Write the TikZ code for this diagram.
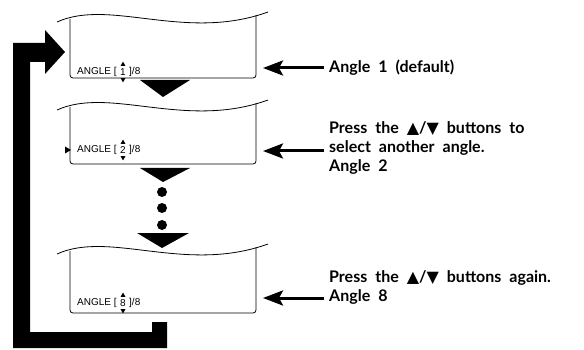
\documentclass[tikz,border=0pt]{standalone}
\usepackage{fontspec}
\setmainfont{Lato}
\newfontfamily\lcdfont{Liberation Sans}
\newfontfamily\symfont{DejaVu Sans}
\usetikzlibrary{arrows.meta}
\newcommand\labfont{\bfseries\fontsize{16}{19}\selectfont\spaceskip=8pt\relax}
\tikzset{
  screenline/.style={draw=black, line width=0.8pt, rounded corners=3pt},
  wave/.style={draw=black, line width=0.8pt},
  lcd/.style={inner sep=0pt, font=\lcdfont\fontsize{10}{10}\selectfont},
  digitmark/.style={fill=black},
  bigtri/.style={fill=black},
  dotmark/.style={fill=black},
  label/.style={inner sep=0pt, anchor=west, align=left, font=\labfont},
  pointer/.style={line width=3pt, -{Stealth[length=20pt,width=15pt,inset=4pt]}},
  loopbar/.style={fill=black}
}
\begin{document}
\begin{tikzpicture}[x=1pt,y=-1pt]
\useasboundingbox (0,0) rectangle (584,350);
% screens
\foreach \dy/\by/\nm in {0/78/a, 88/164/b, 232/313/c}{
  \draw[wave] (57,22+\dy) .. controls (110,-2+\dy) and (185,42+\dy) .. (268,12+\dy);
  \draw[screenline] (70,19+\dy) -- (70,\by) -- (256,\by) -- (256,15+\dy);
}
% screen texts
\foreach \ty/\d/\nm in {72/1/a, 150/2/b, 303/8/c}{
  \node[lcd, anchor=west] (t\nm) at (77,\ty) {ANGLE [};
  \node[lcd] (d\nm) at (123,\ty) {\d};
  \node[lcd, anchor=west] (e\nm) at (129,\ty) {]/8};
  \fill[digitmark] ([yshift=2.5pt]d\nm.north) ++(-2.4,0) -- ++(4.8,0) -- ++(-2.4,-4.2) -- cycle;
  \fill[digitmark] ([yshift=-2.5pt]d\nm.south) ++(-2.4,0) -- ++(4.8,0) -- ++(-2.4,4.2) -- cycle;
}
% marker on screen 2
\fill[digitmark] (65,146.5) -- (71,150) -- (65,153.5) -- cycle;
% big down triangles
\fill[bigtri] (140,80) -- (190,80) -- (163,97) -- cycle;
\fill[bigtri] (140,168) -- (190,168) -- (163,182) -- cycle;
\fill[bigtri] (137,233) -- (189,233) -- (162,248) -- cycle;
% dots
\fill[dotmark] (162,192) circle (5);
\fill[dotmark] (162,208) circle (5);
\fill[dotmark] (162,225) circle (5);
% loop arrow
\fill[loopbar] (13,348) -- (167,348) -- (167,322) -- (152,322) -- (152,332) -- (30,332)
  -- (30,62) -- (45,62) -- (45,74) -- (65,52) -- (45,30) -- (45,43) -- (13,43) -- cycle;
% labels
\node[label] (l1) at (329,68) {Angle 1 (default)};
\node[label] (l2) at (329,148) {Press the {\symfont▲}/{\symfont▼} buttons to\\select another angle.\\Angle 2};
\node[label] (l3) at (329,287) {Press the {\symfont▲}/{\symfont▼} buttons again.\\Angle 8};
% pointers
\coordinate (p1s) at (324,68);
\coordinate (p1e) at (263,68);
\coordinate (p2s) at (324,151);
\coordinate (p2e) at (263,151);
\coordinate (p3s) at (324,298);
\coordinate (p3e) at (263,298);
\draw[pointer] (p1s) -- (p1e);
\draw[pointer] (p2s) -- (p2e);
\draw[pointer] (p3s) -- (p3e);
\end{tikzpicture}
\end{document}
